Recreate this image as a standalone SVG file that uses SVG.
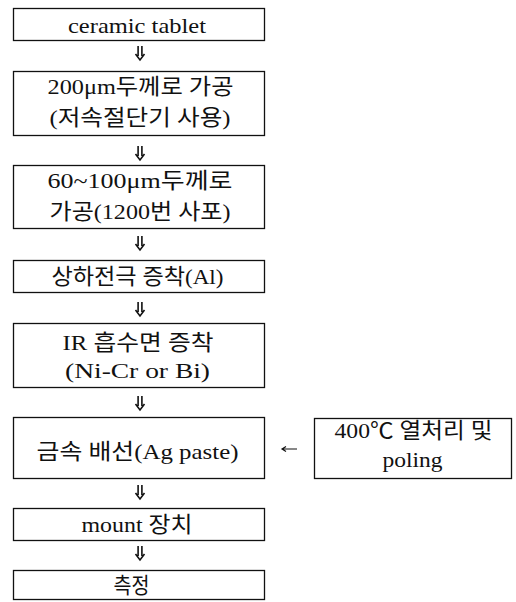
<svg xmlns="http://www.w3.org/2000/svg" xmlns:xlink="http://www.w3.org/1999/xlink" width="516" height="602" viewBox="0 0 516 602">
<style>
.box{fill:#fff;stroke:#111;stroke-width:1.3}
.t{font-family:'Liberation Serif','Noto Sans CJK KR',serif;font-size:22px;fill:#111;text-anchor:middle}
.arr{fill:none;stroke:#111;stroke-width:1.6;stroke-linejoin:miter}
</style>
<defs>
<path id="dn" d="M-1.9 0V10 M1.9 0V10 M-4.5 8 L0 14 L4.5 8"/>
</defs>
<rect width="516" height="602" fill="#fff"/>
<g id="connectors" class="arr">
<use xlink:href="#dn" x="140" y="46"/>
<use xlink:href="#dn" x="140" y="146"/>
<use xlink:href="#dn" x="140" y="236"/>
<use xlink:href="#dn" x="140" y="302"/>
<use xlink:href="#dn" x="140" y="396"/>
<use xlink:href="#dn" x="140" y="485"/>
<use xlink:href="#dn" x="140" y="546"/>
<path d="M297 449H282 M286 446.5L282 449L286 451.5" stroke-width="1.2"/>
</g>
<g id="n1"><rect class="box" x="13.5" y="8.5" width="251" height="32"/>
<text class="t" x="137" y="33" textLength="138" lengthAdjust="spacingAndGlyphs">ceramic tablet</text></g>
<g id="n2"><rect class="box" x="13.5" y="71.5" width="251" height="64"/>
<text class="t" x="140.5" y="94" textLength="186" lengthAdjust="spacingAndGlyphs">200μm두께로 가공</text>
<text class="t" x="140" y="125" textLength="181" lengthAdjust="spacingAndGlyphs">(저속절단기 사용)</text></g>
<g id="n3"><rect class="box" x="13.5" y="165.5" width="251" height="63"/>
<text class="t" x="140" y="188" textLength="185" lengthAdjust="spacingAndGlyphs">60~100μm두께로</text>
<text class="t" x="140" y="219" textLength="181" lengthAdjust="spacingAndGlyphs">가공(1200번 사포)</text></g>
<g id="n4"><rect class="box" x="13.5" y="260.5" width="251" height="32"/>
<text class="t" x="137.5" y="284" textLength="172" lengthAdjust="spacingAndGlyphs">상하전극 증착(Al)</text></g>
<g id="n5"><rect class="box" x="13.5" y="323.5" width="251" height="64"/>
<text class="t" x="138" y="350" textLength="151" lengthAdjust="spacingAndGlyphs">IR 흡수면 증착</text>
<text class="t" x="137.5" y="378" textLength="145" lengthAdjust="spacingAndGlyphs">(Ni-Cr or Bi)</text></g>
<g id="n6"><rect class="box" x="13.5" y="417.5" width="251" height="61"/>
<text class="t" x="137.5" y="459" textLength="202" lengthAdjust="spacingAndGlyphs">금속 배선(Ag paste)</text></g>
<g id="n9"><rect class="box" x="314.5" y="418.5" width="197" height="60"/>
<text class="t" x="413.5" y="438" textLength="158" lengthAdjust="spacingAndGlyphs">400℃ 열처리 및</text>
<text class="t" x="412.5" y="467" textLength="60" lengthAdjust="spacingAndGlyphs">poling</text></g>
<g id="n7"><rect class="box" x="13.5" y="508.5" width="251" height="32"/>
<text class="t" x="137" y="532" textLength="111" lengthAdjust="spacingAndGlyphs">mount 장치</text></g>
<g id="n8"><rect class="box" x="13.5" y="570.5" width="251" height="29"/>
<text class="t" x="131.5" y="593" textLength="36" lengthAdjust="spacingAndGlyphs">측정</text></g>
</svg>
